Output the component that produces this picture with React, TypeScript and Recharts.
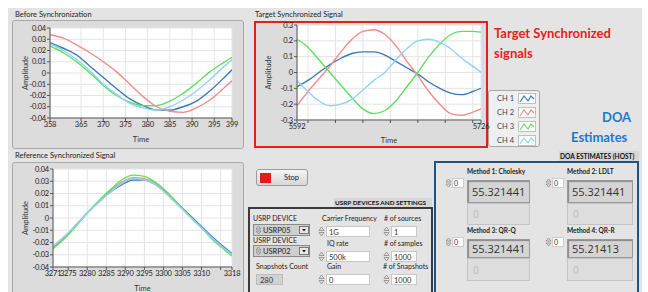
import React from 'react';
import { LineChart, Line, XAxis, YAxis, CartesianGrid } from 'recharts';

// channel colours, CH1..CH4
const chColors = ['#3b78b6', '#f28b8b', '#5fdf5f', '#8fd4f2'];
const chNames = ['CH 1', 'CH 2', 'CH 3', 'CH 4'];

// Before Synchronization
const beforeTime = [358, 361, 364, 367, 370, 373, 376, 379, 382, 385, 388, 391, 394, 397, 399];
const beforeCh1 = [0.027, 0.022, 0.016, 0.006, -0.004, -0.014, -0.023, -0.029, -0.033, -0.033, -0.03, -0.025, -0.016, -0.005, 0.003];
const beforeCh2 = [0.034, 0.031, 0.025, 0.018, 0.01, 0.001, -0.01, -0.021, -0.03, -0.034, -0.035, -0.031, -0.024, -0.014, -0.007];
const beforeCh3 = [0.024, 0.018, 0.01, 0.0, -0.011, -0.02, -0.026, -0.029, -0.029, -0.025, -0.018, -0.009, 0.001, 0.009, 0.014];
const beforeCh4 = [0.026, 0.02, 0.012, 0.002, -0.01, -0.019, -0.027, -0.031, -0.033, -0.03, -0.024, -0.016, -0.006, 0.005, 0.012];
const beforeTicks = [358, 365, 370, 375, 380, 385, 390, 395, 399];

// Reference Synchronized Signal
const refTime = [3271, 3274, 3277, 3280, 3283, 3286, 3289, 3292, 3295, 3298, 3301, 3304, 3307, 3310, 3313, 3316, 3318];
const refCh1 = [-0.024, -0.016, -0.006, 0.004, 0.013, 0.021, 0.027, 0.031, 0.031, 0.027, 0.02, 0.011, 0.002, -0.007, -0.016, -0.024, -0.029];
const refCh2 = [-0.024, -0.016, -0.006, 0.004, 0.013, 0.022, 0.029, 0.033, 0.032, 0.028, 0.02, 0.011, 0.001, -0.008, -0.017, -0.025, -0.03];
const refCh3 = [-0.025, -0.017, -0.007, 0.004, 0.014, 0.023, 0.031, 0.035, 0.034, 0.029, 0.021, 0.011, 0.001, -0.008, -0.018, -0.026, -0.031];
const refCh4 = [-0.023, -0.015, -0.006, 0.004, 0.013, 0.021, 0.028, 0.032, 0.031, 0.027, 0.019, 0.01, 0.001, -0.008, -0.017, -0.025, -0.03];
const refTicks = [3271, 3275, 3280, 3285, 3290, 3295, 3300, 3305, 3310, 3315, 3318];
const refTickLabels = ['3271', '3275', '3280', '3285', '3290', '3295', '3300', '3305', '3310', '', '3318'];

// Target Synchronized Signal
const targetTime = [5592, 5600, 5608, 5616, 5624, 5632, 5640, 5648, 5656, 5664, 5672, 5680, 5688, 5696, 5704, 5712, 5720, 5726];
const targetCh1 = [-0.09, -0.05, 0.0, 0.05, 0.09, 0.12, 0.13, 0.13, 0.11, 0.07, 0.03, -0.01, -0.06, -0.1, -0.13, -0.14, -0.12, -0.1];
const targetCh2 = [-0.21, -0.12, -0.04, 0.04, 0.13, 0.21, 0.26, 0.27, 0.24, 0.17, 0.07, -0.02, -0.12, -0.2, -0.26, -0.27, -0.25, -0.23];
const targetCh3 = [0.21, 0.16, 0.08, 0.0, -0.08, -0.16, -0.23, -0.26, -0.24, -0.18, -0.09, 0.0, 0.1, 0.18, 0.24, 0.26, 0.26, 0.255];
const targetCh4 = [-0.05, -0.12, -0.18, -0.21, -0.2, -0.17, -0.11, -0.05, 0.0, 0.08, 0.15, 0.2, 0.21, 0.19, 0.15, 0.09, 0.04, 0.0];
const targetTicks = [5592, 5600, 5620, 5640, 5660, 5680, 5700, 5720, 5726];
const targetTickLabels = ['5592', '', '', '', '', '', '', '', '5726'];

const smallTicks = [0.04, 0.03, 0.02, 0.01, 0, -0.01, -0.02, -0.03, -0.04];
const bigTicks = [0.3, 0.2, 0.1, 0, -0.1, -0.2, -0.3];

// DOA results
const methodNames = ['Method 1: Cholesky', 'Method 2: LDLT', 'Method 3: QR-Q', 'Method 4: QR-R'];
const methodValues = ['55.321441', '55.321441', '55.321441', '55.21413'];

const buildRows = (time: number[], series: number[][]) =>
  time.map((t, i) => ({ t, ch1: series[0][i], ch2: series[1][i], ch3: series[2][i], ch4: series[3][i] }));

const font = 'Lato, "Liberation Sans", sans-serif';
const tickFont = '"Liberation Sans Narrow", Lato, sans-serif';

const AmpLabel = (props: any) => {
  const vb = props.viewBox || {};
  const cx = (vb.x || 0) + 12;
  const cy = (vb.y || 0) + (vb.height || 0) / 2;
  return (
    <text x={cx} y={cy} transform={`rotate(-90 ${cx} ${cy})`} textAnchor="middle" dominantBaseline="central"
      fontSize={7.5} fill="#333" fontFamily={font}>Amplitude</text>
  );
};

interface SignalChartProps {
  left: number; top: number; width: number; height: number;
  rows: any[]; xDomain: [number, number]; xTicks: number[]; xLabel: (v: number) => string;
  yDomain: [number, number]; yTicks: number[]; yLabel: (v: number) => string;
  margin: { top: number; right: number; left: number; bottom: number };
  yWidth: number; xHeight: number; timeOffset: number;
}

const tickStyle = { fontSize: 7.5, fill: '#222', fontFamily: tickFont, letterSpacing: -0.2 };

const SignalChart = (p: SignalChartProps) => (
  <div className="sig" style={{ position: 'absolute', left: p.left, top: p.top }}>
    <LineChart width={p.width} height={p.height} data={p.rows} margin={p.margin}>
      <CartesianGrid fill="#ffffff" stroke="#e4e4e4" />
      <XAxis dataKey="t" type="number" domain={p.xDomain} ticks={p.xTicks} tickFormatter={p.xLabel}
        allowDataOverflow height={p.xHeight} tickSize={3} tickMargin={1} interval={0}
        stroke="#555" tick={tickStyle}
        label={{ value: 'Time', position: 'insideBottom', offset: p.timeOffset, fontSize: 7.5, fill: '#333', fontFamily: font }} />
      <YAxis type="number" domain={p.yDomain} ticks={p.yTicks} tickFormatter={p.yLabel} allowDataOverflow
        width={p.yWidth} tickSize={3} tickMargin={1} interval={0} stroke="#555"
        tick={tickStyle} label={<AmpLabel />} />
      {['ch1', 'ch2', 'ch3', 'ch4'].map((k, i) => (
        <Line key={k} dataKey={k} stroke={chColors[i]} strokeWidth={1.4} dot={false} type="monotone" isAnimationActive={false} />
      ))}
    </LineChart>
  </div>
);

const abs = (left: number, top: number, width: number, height: number, extra: React.CSSProperties = {}): React.CSSProperties => ({
  position: 'absolute', left, top, width, height, boxSizing: 'border-box', ...extra,
});

const Txt = ({ x, y, size = 7, bold = false, color = '#222', children, style = {} }: any) => (
  <div style={{ position: 'absolute', left: x, top: y, fontSize: size, fontWeight: bold ? 700 : 400, color,
    whiteSpace: 'nowrap', lineHeight: 1, fontFamily: font, ...style }}>{children}</div>
);

const Spinner = ({ x, y, h = 11 }: any) => (
  <svg style={{ position: 'absolute', left: x, top: y }} width={7} height={h}>
    <path d={`M1 ${h / 2 - 1} L3.5 1 L6 ${h / 2 - 1} Z`} fill="none" stroke="#888" strokeWidth={0.8} />
    <path d={`M1 ${h / 2 + 1} L3.5 ${h - 1} L6 ${h / 2 + 1} Z`} fill="none" stroke="#888" strokeWidth={0.8} />
  </svg>
);

const InputBox = ({ x, y, w, text }: any) => (
  <>
    <Spinner x={x} y={y} />
    <div style={abs(x + 8, y, w - 8, 11, { background: '#fff', border: '1px solid #c8c8c8' })}>
      <Txt x={2} y={1.5} size={7.5} color="#333">{text}</Txt>
    </div>
  </>
);

const Dropdown = ({ x, y, text }: any) => (
  <div style={abs(x, y, 57, 12, { background: '#cfcfcf', border: '1px solid #8a8a8a' })}>
    <Spinner x={1} y={0} h={10} />
    <Txt x={9} y={1.5} size={7.5} color="#222">{text}</Txt>
    <div style={abs(45, 1, 10, 8, { background: '#e8e8e8', border: '1px solid #777' })}>
      <svg width={8} height={6} style={{ position: 'absolute', left: 0, top: 0 }}>
        <path d="M2 2 L4 4.5 L6 2 Z" fill="#222" />
      </svg>
    </div>
  </div>
);

const DoaBlock = ({ x, y, name, value, bigH, smallH, w }: any) => (
  <>
    <Txt x={x} y={y - 11} size={6.5} bold color="#222">{name}</Txt>
    <Spinner x={x - 22} y={y - 2} h={10} />
    <div style={abs(x - 15, y - 2, 12, 10, { background: '#fff', border: '1px solid #ccc' })}>
      <Txt x={1} y={1} size={7} color="#333">0</Txt>
    </div>
    <div style={abs(x, y, w, bigH, { background: '#d4d4d4', border: '1px solid #999', boxShadow: 'inset 1px 1px 1px #888' })}>
      <div style={{ position: 'absolute', left: 4, top: 0, height: bigH - 2, display: 'flex', alignItems: 'center',
        fontSize: 11, color: '#333', fontFamily: '"Open Sans", sans-serif' }}>{value}</div>
    </div>
    <div style={abs(x, y + bigH, w, smallH, { background: '#dedede', border: '1px solid #c4c4c4' })}>
      <div style={{ position: 'absolute', left: 5, top: 0, height: smallH - 2, display: 'flex', alignItems: 'center',
        fontSize: 10, color: '#b8b8b8', fontFamily: '"Open Sans", sans-serif' }}>0</div>
    </div>
  </>
);

const App: React.FC = () => {
  const beforeRows = buildRows(beforeTime, [beforeCh1, beforeCh2, beforeCh3, beforeCh4]);
  const refRows = buildRows(refTime, [refCh1, refCh2, refCh3, refCh4]);
  const targetRows = buildRows(targetTime, [targetCh1, targetCh2, targetCh3, targetCh4]);
  const smallFmt = (v: number) => (v === 0 ? '0' : v.toFixed(2));
  const bigFmt = (v: number) => (v === 0 ? '0' : v.toFixed(1));

  return (
    <div style={{ position: 'fixed', left: 0, top: 0, width: 648, height: 292, background: '#fff', overflow: 'hidden', fontFamily: font }}>
      <style>{'.sig .recharts-surface{overflow:visible}'}</style>
      <div style={abs(8, 8, 634, 284, { background: '#e4e4e4' })} />

      {/* legend (drawn first so the 5726 label sits over its edge) */}
      <div style={abs(488, 90, 52, 57, { background: '#efefef', border: '1px solid #a8a8a8', borderRadius: 3 })}>
        {chNames.map((n, i) => (
          <React.Fragment key={n}>
            <Txt x={8} y={4 + i * 14} size={7.5} color="#444">{n}</Txt>
            <div style={abs(29, 2 + i * 14, 18, 11, { background: '#fff', border: '1px solid #c0c0c0' })}>
              <svg width={16} height={9} style={{ position: 'absolute', left: 0, top: 0 }}>
                <polyline points="1,8 5,2 9,7 12,2 15,5" fill="none" stroke={chColors[i]} strokeWidth={1.2} />
              </svg>
            </div>
          </React.Fragment>
        ))}
      </div>

      {/* Before Synchronization */}
      <Txt x={15} y={11} size={7.5}>Before Synchronization</Txt>
      <div style={abs(12, 20, 232, 129, { background: '#dcdcdc', border: '1px solid #a9a9a9', borderRadius: 3 })} />
      <SignalChart left={13} top={21} width={230} height={127} rows={beforeRows}
        xDomain={[358, 399]} xTicks={beforeTicks} xLabel={(v) => String(v)}
        yDomain={[-0.04, 0.04]} yTicks={smallTicks} yLabel={smallFmt}
        margin={{ top: 7, right: 11, left: 0, bottom: 0 }} yWidth={37} xHeight={30} timeOffset={6} />

      {/* Reference Synchronized Signal */}
      <Txt x={15} y={152} size={7.5}>Reference Synchronized Signal</Txt>
      <div style={abs(12, 162, 232, 140, { background: '#dcdcdc', border: '1px solid #a9a9a9', borderRadius: 3 })} />
      <SignalChart left={13} top={163} width={230} height={129} rows={refRows}
        xDomain={[3271, 3318]} xTicks={refTicks} xLabel={(v) => refTickLabels[refTicks.indexOf(v)] ?? ''}
        yDomain={[-0.04, 0.04]} yTicks={smallTicks} yLabel={smallFmt}
        margin={{ top: 6, right: 11, left: 0, bottom: 0 }} yWidth={40} xHeight={25} timeOffset={1} />

      {/* Target Synchronized Signal */}
      <Txt x={255} y={11} size={7.5}>Target Synchronized  Signal</Txt>
      <div style={abs(254, 21, 234, 127, { background: '#dcdcdc', border: '2px solid #e51e1e' })} />
      <SignalChart left={256} top={23} width={230} height={123} rows={targetRows}
        xDomain={[5592, 5726]} xTicks={targetTicks} xLabel={(v) => targetTickLabels[targetTicks.indexOf(v)] ?? ''}
        yDomain={[-0.3, 0.3]} yTicks={bigTicks} yLabel={bigFmt}
        margin={{ top: 2, right: 5, left: 0, bottom: 0 }} yWidth={41} xHeight={26} timeOffset={3} />

      <Txt x={494} y={27} size={13} bold color="#e81c1c">Target Synchronized</Txt>
      <Txt x={494} y={47} size={13} bold color="#e81c1c">signals</Txt>
      <Txt x={602} y={111} size={13} bold color="#1f78c8">DOA</Txt>
      <Txt x={571} y={131} size={13} bold color="#1f78c8">Estimates</Txt>

      {/* Stop button */}
      <div style={abs(256, 169, 52, 17, { background: 'linear-gradient(#f6f6f6, #d6d6d6)', border: '1px solid #9a9a9a', borderRadius: 3 })}>
        <div style={abs(3, 3, 11, 10, { background: '#e31b1b' })} />
        <Txt x={27} y={4} size={7.5} color="#222">Stop</Txt>
      </div>

      {/* USRP devices and settings */}
      <div style={abs(334, 198, 98, 10, { background: '#d6d6d6' })}>
        <Txt x={1} y={2} size={6.4} bold color="#111">USRP DEVICES AND SETTINGS</Txt>
      </div>
      <div style={abs(248, 207, 185, 95, { border: '2px solid #3a3a3a' })} />
      <Txt x={253} y={215} size={7}>USRP DEVICE</Txt>
      <Dropdown x={253} y={224} text="USRP05" />
      <Txt x={253} y={237} size={7}>USRP DEVICE</Txt>
      <Dropdown x={253} y={245} text="USRP02" />
      <Txt x={256} y={263} size={7}>Snapshots Count</Txt>
      <div style={abs(256, 274, 27, 11, { background: '#d2d2d2', border: '1px solid #bdbdbd' })}>
        <Txt x={3} y={1.5} size={7.5} color="#333">280</Txt>
      </div>

      <Txt x={322} y={215} size={7}>Carrier Frequency</Txt>
      <InputBox x={318} y={226} w={52} text="1G" />
      <Txt x={327} y={240} size={7}>IQ rate</Txt>
      <InputBox x={318} y={251} w={52} text="500k" />
      <Txt x={327} y={263} size={7}>Gain</Txt>
      <InputBox x={318} y={274} w={52} text="0" />

      <Txt x={384} y={215} size={7}># of sources</Txt>
      <InputBox x={383} y={226} w={34} text="1" />
      <Txt x={384} y={240} size={7}># of samples</Txt>
      <InputBox x={383} y={251} w={34} text="1000" />
      <Txt x={383} y={263} size={7}># of Snapshots</Txt>
      <InputBox x={383} y={274} w={34} text="1000" />

      {/* DOA estimates */}
      <div style={abs(559, 151, 80, 10, { background: '#d6d6d6' })}>
        <Txt x={1} y={2} size={6.6} bold color="#111">DOA ESTIMATES (HOST)</Txt>
      </div>
      <div style={abs(434, 161, 205, 140, { border: '2px solid #1d5582' })} />
      <DoaBlock x={467} y={180} w={63} name={methodNames[0]} value={methodValues[0]} bigH={23} smallH={22} />
      <DoaBlock x={567} y={180} w={66} name={methodNames[1]} value={methodValues[1]} bigH={23} smallH={22} />
      <DoaBlock x={467} y={239} w={63} name={methodNames[2]} value={methodValues[2]} bigH={19} smallH={23} />
      <DoaBlock x={567} y={239} w={66} name={methodNames[3]} value={methodValues[3]} bigH={19} smallH={23} />
    </div>
  );
};

export default App;
